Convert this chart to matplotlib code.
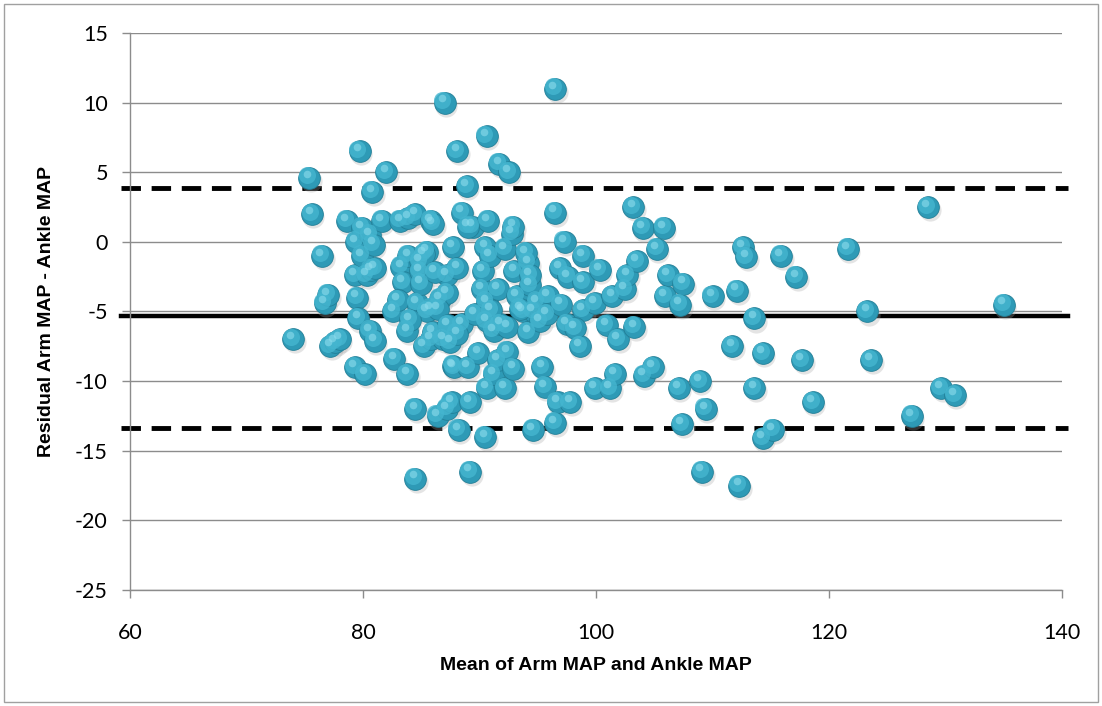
import matplotlib
matplotlib.use("Agg")
import matplotlib.pyplot as plt
import matplotlib.patches as patches
import matplotlib.transforms as mtransforms

plt.rcParams['font.family'] = ['Lato', 'DejaVu Sans']
plt.rcParams['axes.unicode_minus'] = False

# mean of arm MAP and ankle MAP
mean_map = [74.0, 75.4, 75.6, 76.5, 76.7, 77.0, 77.2, 77.6, 78.0, 78.6,
            79.3, 79.4, 79.5, 79.3, 79.6, 79.7, 79.9, 79.9, 80.2, 80.3,
            80.8, 80.6, 80.7, 80.6, 81.0, 81.6, 82.0, 82.6, 82.7, 83.2,
            83.3, 83.4, 83.8, 83.8, 83.9, 83.9, 84.5, 84.6, 84.9, 84.9,
            84.5, 84.5, 85.2, 85.5, 85.8, 85.8, 85.8, 86.4, 86.6, 86.9,
            87.0, 87.2, 87.2, 87.2, 87.5, 87.6, 87.7, 87.7, 87.8, 88.1,
            88.1, 88.2, 88.5, 88.5, 88.1, 88.9, 89.0, 89.2, 89.2, 89.4,
            89.9, 90.2, 90.3, 90.5, 90.5, 90.6, 90.6, 90.6, 90.6, 90.7,
            90.9, 91.2, 91.2, 91.6, 91.6, 91.7, 91.8, 92.2, 92.2, 92.4,
            92.4, 92.5, 92.8, 92.9, 92.9, 93.0, 93.2, 93.7, 94.2, 94.2,
            94.3, 94.3, 94.6, 94.6, 94.9, 95.2, 95.4, 95.6, 95.9, 96.5,
            96.5, 96.5, 96.7, 96.9, 97.3, 97.5, 97.6, 97.8, 98.6, 98.9,
            98.9, 98.9, 99.9, 99.9, 100.3, 100.9, 101.2, 101.4, 101.6, 101.9,
            102.5, 102.7, 103.2, 103.3, 103.5, 104.0, 104.1, 104.9, 105.2, 105.8,
            105.9, 106.2, 107.1, 107.2, 107.4, 107.5, 108.9, 109.1, 109.4, 110.0,
            111.7, 112.1, 112.3, 112.6, 112.9, 113.6, 113.6, 114.3, 114.3, 115.2,
            115.9, 117.2, 117.7, 118.6, 121.6, 123.3, 123.6, 127.1, 128.5, 129.6,
            130.8, 135.0,
            85.2, 85.5, 86.4, 86.0, 87.3, 81.0, 89.0, 86.0, 80.9, 83.0,
            85.0, 86.2, 89.6, 93.5, 95.8, 97.0, 98.2, 91.0, 94.0, 84.0]

# residual arm MAP - ankle MAP
residual = [-7.0, 4.6, 2.0, -1.0, -4.4, -3.8, -7.5, -7.2, -7.0, 1.5,
            -2.4, 0.0, -4.0, -9.0, -5.5, 6.5, -1.0, 1.0, -9.5, -2.4,
            3.6, 0.5, -2.0, -6.4, -7.1, 1.5, 5.0, -5.0, -8.4, 1.5,
            -1.8, -2.9, -6.4, -9.5, 1.7, -1.0, 2.0, -4.4, -1.4, -2.1,
            -12.0, -17.0, -7.5, -0.7, 1.5, -4.8, -7.0, -12.5, -4.1, -7.0,
            10.0, -3.7, -2.4, -12.0, -7.2, -11.5, -0.4, -8.9, -9.0, 6.5,
            -1.9, -13.5, 2.1, -5.9, -6.6, 4.0, -9.0, -11.5, -16.5, 1.1,
            -8.0, -3.4, -2.1, -0.4, -14.0, -4.3, -5.7, -10.5, 7.6, 1.5,
            -1.0, -6.4, -9.5, -3.4, -8.5, 5.6, -5.9, -0.5, -10.5, -6.1,
            -7.9, 5.0, 0.6, 1.1, -9.1, -2.1, -3.9, -5.0, -1.5, -6.5,
            -3.1, -2.4, -5.0, -13.5, -4.3, -5.7, -9.0, -10.4, -3.9, 2.1,
            11.0, -13.0, -11.5, -1.9, 0.0, -5.9, -2.5, -11.5, -7.5, -1.0,
            -2.9, -4.9, -4.4, -10.5, -2.0, -6.0, -10.5, -3.9, -9.5, -7.0,
            -3.4, -2.4, 2.5, -6.1, -1.4, 1.0, -9.6, -9.0, -0.5, 1.0,
            -3.9, -2.4, -10.5, -4.5, -13.1, -3.0, -10.0, -16.5, -12.0, -3.9,
            -7.5, -3.5, -17.5, -0.4, -1.1, -5.5, -10.5, -8.0, -14.1, -13.5,
            -1.0, -2.5, -8.5, -11.5, -0.5, -5.0, -8.5, -12.5, 2.5, -10.5,
            -11.0, -4.5,
            -0.9, -5.0, -4.8, -6.5, -6.0, -1.9, 1.1, 1.3, -0.2, -4.2,
            -3.0, -2.2, -5.2, -4.8, -5.2, -4.5, -6.2, -4.9, -0.8, -5.6]

mean_diff = -5.35
upper_loa = 3.85
lower_loa = -13.35
line_x = [59.2, 140.5]

fig = plt.figure(figsize=(11.02, 7.06), dpi=100)
ax = fig.add_axes([0.118, 0.1643, 0.8457, 0.789])

grid_c = '#8c8c8c'
ax.set_xlim(60, 140)
ax.set_ylim(-25, 15)
ax.set_xticks([60, 80, 100, 120, 140])
ax.set_yticks(range(-25, 16, 5))
ax.yaxis.grid(True, color=grid_c, linewidth=1)
ax.set_axisbelow(True)
for s in ['top', 'right']:
    ax.spines[s].set_visible(False)
for s in ['left', 'bottom']:
    ax.spines[s].set_color(grid_c)
    ax.spines[s].set_linewidth(1)
ax.tick_params(axis='both', colors=grid_c, labelcolor='black', labelsize=15.5, length=6, width=1)
ax.tick_params(axis='y', pad=10)
ax.tick_params(axis='x', pad=18)

# reference lines
ax.plot(line_x, [upper_loa, upper_loa], color='black', lw=3.5, dashes=(4, 2.2), clip_on=False, zorder=2)
ax.plot(line_x, [lower_loa, lower_loa], color='black', lw=3.5, dashes=(4, 2.2), clip_on=False, zorder=2)
ax.plot(line_x, [mean_diff, mean_diff], color='black', lw=3.2, clip_on=False, zorder=2)

# spheres: shadow, body, soft highlight
shadow_tr = mtransforms.offset_copy(ax.transData, fig=fig, x=1.2, y=-2.2, units='points')
hl_tr = mtransforms.offset_copy(ax.transData, fig=fig, x=-1.5, y=1.8, units='points')
ax.scatter(mean_map, residual, s=255, color='#a8a8a8', alpha=0.3, linewidths=0, transform=shadow_tr, zorder=3)
ax.scatter(mean_map, residual, s=245, color='#2e9ab6', edgecolors='#227f97', linewidths=0.6, zorder=4)
ax.scatter(mean_map, residual, s=150, color='#45b6d0', alpha=0.8, linewidths=0, transform=hl_tr, zorder=5)
hl2_tr = mtransforms.offset_copy(ax.transData, fig=fig, x=-2.0, y=3.0, units='points')
ax.scatter(mean_map, residual, s=30, color='#8edced', alpha=0.6, linewidths=0, transform=hl2_tr, zorder=6)

ax.set_xlabel('Mean of Arm MAP and Ankle MAP', fontsize=14, fontweight='bold',
              family=['Liberation Sans', 'DejaVu Sans'], labelpad=10)
ax.set_ylabel('Residual Arm MAP - Ankle MAP', fontsize=14, fontweight='bold',
              family=['Liberation Sans', 'DejaVu Sans'], labelpad=14)

fig.patches.append(patches.Rectangle((0.004, 0.006), 0.992, 0.988, transform=fig.transFigure,
                                     fill=False, edgecolor='#a0a0a0', linewidth=1))

fig.savefig('out.png', dpi=100)
